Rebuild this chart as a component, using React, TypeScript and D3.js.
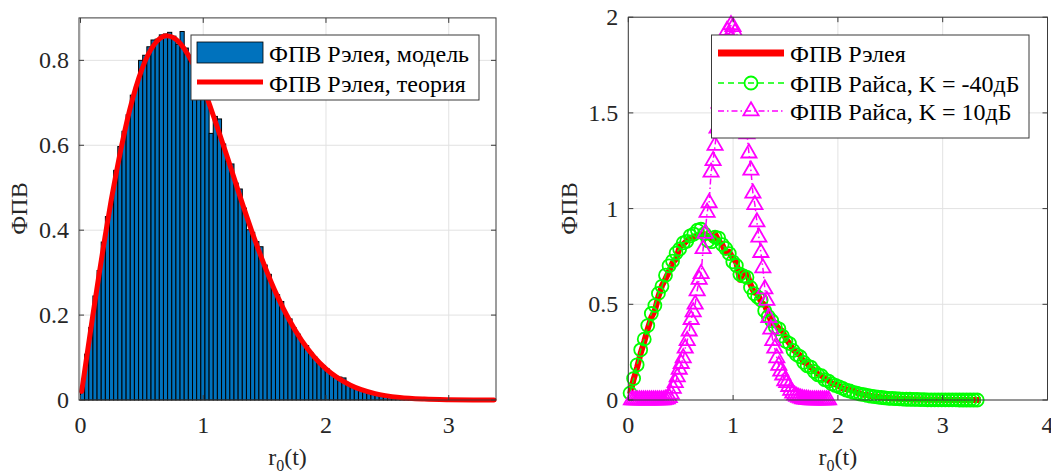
import React from 'react';
import * as d3 from 'd3';

// ---------- DATA ----------
// Left: histogram (PDF-normalised) of simulated Rayleigh samples
const HIST_START = 0;
const HIST_BIN = 0.0338;
const histValues = [
  0.032, 0.108, 0.171, 0.245, 0.305, 0.372, 0.432, 0.468, 0.541, 0.597,
  0.633, 0.672, 0.718, 0.737, 0.800, 0.812, 0.832, 0.848, 0.850, 0.860,
  0.862, 0.866, 0.857, 0.838, 0.868, 0.829, 0.812, 0.770, 0.774, 0.741,
  0.720, 0.628, 0.668, 0.662, 0.603, 0.562, 0.556, 0.511, 0.497, 0.452,
  0.401, 0.395, 0.373, 0.361, 0.318, 0.296, 0.263, 0.248, 0.232, 0.199,
  0.191, 0.170, 0.155, 0.136, 0.128, 0.112, 0.101, 0.087, 0.081, 0.073,
  0.060, 0.057, 0.054, 0.052, 0.038, 0.034, 0.027, 0.026, 0.021, 0.019,
  0.017, 0.013, 0.012, 0.010, 0.008, 0.008, 0.006, 0.005, 0.005, 0.004,
  0.003, 0.003, 0.002, 0.002, 0.001, 0.001, 0.001, 0.001, 0.0005, 0.0005,
  0.0005, 0, 0.0005, 0, 0, 0.0003, 0, 0, 0, 0.0003,
];
// Left: theoretical Rayleigh PDF
const theoryX = [0.01, 0.05, 0.1, 0.15, 0.2, 0.25, 0.3, 0.35, 0.4, 0.5, 0.6, 0.7, 0.8, 0.9, 1.0, 1.1, 1.2, 1.3, 1.4, 1.5, 1.6, 1.7, 1.8, 1.9, 2.0, 2.2, 2.4, 2.6, 2.8, 3.0, 3.2, 3.37];
const theoryY = [0.02, 0.0998, 0.198, 0.293, 0.384, 0.47, 0.548, 0.619, 0.682, 0.779, 0.837, 0.858, 0.844, 0.801, 0.736, 0.655, 0.569, 0.479, 0.394, 0.316, 0.247, 0.189, 0.141, 0.103, 0.0733, 0.0348, 0.0151, 0.006, 0.0022, 0.0007, 0.0002, 0.00008];

// Right: Rayleigh PDF (model) uses histValues at the bin centres
// Right: Rice PDF, K = -40 dB (same bin centres, 99 points)
const riceLowK = [
  0.036, 0.112, 0.184, 0.262, 0.318, 0.389, 0.452, 0.494, 0.557, 0.594,
  0.652, 0.701, 0.726, 0.768, 0.789, 0.821, 0.829, 0.858, 0.867, 0.887,
  0.892, 0.869, 0.832, 0.827, 0.851, 0.846, 0.812, 0.792, 0.765, 0.722,
  0.703, 0.657, 0.648, 0.641, 0.588, 0.556, 0.538, 0.522, 0.466, 0.437,
  0.414, 0.381, 0.372, 0.334, 0.306, 0.295, 0.259, 0.237, 0.226, 0.197,
  0.179, 0.172, 0.149, 0.132, 0.127, 0.106, 0.099, 0.084, 0.076, 0.069,
  0.061, 0.052, 0.047, 0.040, 0.036, 0.031, 0.028, 0.024, 0.020, 0.018,
  0.015, 0.013, 0.011, 0.009, 0.008, 0.007, 0.006, 0.005, 0.004, 0.004,
  0.003, 0.003, 0.002, 0.002, 0.001, 0.001, 0.001, 0.001, 0.001, 0.0005,
  0.0005, 0.0005, 0.0005, 0, 0, 0, 0, 0, 0,
];
// Right: Rice PDF, K = 10 dB
const RICE_HIGH_START = 0.03;
const RICE_HIGH_STEP = 0.019;
const riceHighK = [
  0, 0, 0, 0, 0, 0, 0, 0, 0, 0,
  0, 0, 0, 0, 0, 0, 0, 0.003, 0.006, 0.012,
  0.03, 0.06, 0.09, 0.12, 0.16, 0.19, 0.22, 0.27, 0.31, 0.36,
  0.42, 0.46, 0.50, 0.57, 0.63, 0.66, 0.79, 0.87, 0.98, 1.03,
  1.19, 1.25, 1.33, 1.42, 1.55, 1.62, 1.72, 1.80, 1.93, 1.90,
  1.96, 1.95, 1.92, 1.86, 1.80, 1.70, 1.60, 1.50, 1.39, 1.29,
  1.20, 1.08, 1.02, 0.93, 0.85, 0.77, 0.69, 0.58, 0.52, 0.43,
  0.37, 0.31, 0.27, 0.22, 0.18, 0.15, 0.13, 0.10, 0.09, 0.07,
  0.05, 0.035, 0.025, 0.018, 0.013, 0.009, 0.006, 0.004, 0.003, 0.002,
  0, 0, 0, 0, 0, 0, 0, 0, 0, 0,
];

const leftXTicks = [0, 1, 2, 3];
const leftYTicks = [0, 0.2, 0.4, 0.6, 0.8];
const rightXTicks = [0, 1, 2, 3, 4];
const rightYTicks = [0, 0.5, 1, 1.5, 2];

const leftLegend = ['ФПВ Рэлея, модель', 'ФПВ Рэлея, теория'];
const rightLegend = ['ФПВ Рэлея', 'ФПВ Райса, K = -40дБ', 'ФПВ Райса, K = 10дБ'];
const yLabel = 'ФПВ';

// ---------- STYLE ----------
const FONT = "'Liberation Serif', 'Times New Roman', serif";
const TXT = '#262626';
const GRID = '#e2e2e2';
const AX = '#3a3a3a';
const BLUE = '#0072BD';
const RED = '#ff0000';
const GREEN = '#00ff00';
const MAG = '#ff00ff';
const FS = 24;

function Axes({ x, y, xTicks, yTicks }: any) {
  const [x0, x1] = x.range();
  const [y1, y0] = y.range();
  return (
    <g>
      {xTicks.map((t: number) => (
        <line key={'gx' + t} x1={x(t)} x2={x(t)} y1={y0} y2={y1} stroke={GRID} strokeWidth={1} />
      ))}
      {yTicks.map((t: number) => (
        <line key={'gy' + t} x1={x0} x2={x1} y1={y(t)} y2={y(t)} stroke={GRID} strokeWidth={1} />
      ))}
    </g>
  );
}

function Frame({ x, y, xTicks, yTicks }: any) {
  const [x0, x1] = x.range();
  const [y1, y0] = y.range();
  const tl = 5;
  return (
    <g>
      <rect x={x0} y={y0} width={x1 - x0} height={y1 - y0} fill="none" stroke={AX} strokeWidth={1} />
      {xTicks.map((t: number) => (
        <g key={'tx' + t}>
          <line x1={x(t)} x2={x(t)} y1={y1} y2={y1 - tl} stroke={AX} />
          <line x1={x(t)} x2={x(t)} y1={y0} y2={y0 + tl} stroke={AX} />
          <text x={x(t)} y={y1 + 33} textAnchor="middle" fontSize={FS} fill={TXT} fontFamily={FONT}>{String(t)}</text>
        </g>
      ))}
      {yTicks.map((t: number) => (
        <g key={'ty' + t}>
          <line x1={x0} x2={x0 + tl} y1={y(t)} y2={y(t)} stroke={AX} />
          <line x1={x1} x2={x1 - tl} y1={y(t)} y2={y(t)} stroke={AX} />
          <text x={x0 - 10} y={y(t) + 8} textAnchor="end" fontSize={FS} fill={TXT} fontFamily={FONT}>{String(t)}</text>
        </g>
      ))}
      <text x={(x0 + x1) / 2} y={465} textAnchor="middle" fontSize={FS} fill={TXT} fontFamily={FONT}>
        r<tspan fontSize={16} dy={6}>0</tspan><tspan dy={-6}>(t)</tspan>
      </text>
    </g>
  );
}

export default function App() {
  // Left axes
  const xl = d3.scaleLinear().domain([-0.012, 3.385]).range([79, 496]);
  const yl = d3.scaleLinear().domain([0, 0.9]).range([400, 17.9]);
  // Right axes
  const xr = d3.scaleLinear().domain([0, 4]).range([628.3, 1047.5]);
  const yr = d3.scaleLinear().domain([0, 2]).range([400, 17.2]);

  const histCenters = histValues.map((_, i) => HIST_START + HIST_BIN * (i + 0.5));
  const lowKX = riceLowK.map((_, i) => HIST_START + HIST_BIN * (i + 0.5));
  const highKX = riceHighK.map((_, i) => RICE_HIGH_START + RICE_HIGH_STEP * i);

  const theoryLine = d3.line<number>().x((_, i) => xl(theoryX[i])).y((d) => yl(d)).curve(d3.curveMonotoneX)(theoryY) || '';
  const redLine = d3.line<number>().x((_, i) => xr(histCenters[i])).y((d) => yr(d))(histValues) || '';
  const greenLine = d3.line<number>().x((_, i) => xr(lowKX[i])).y((d) => yr(d))(riceLowK) || '';
  const magLine = d3.line<number>().x((_, i) => xr(highKX[i])).y((d) => yr(d))(riceHighK) || '';
  const tri = d3.symbol(d3.symbolTriangle, 100)() || '';

  return (
    <svg width={1051} height={472} style={{ position: 'absolute', left: 0, top: 0, background: '#fff' }} fontFamily={FONT}>
      <rect x={0} y={0} width={1051} height={472} fill="#fff" />
      {/* ---------- LEFT ---------- */}
      <Axes x={xl} y={yl} xTicks={leftXTicks} yTicks={leftYTicks} />
      {histValues.map((v, i) => {
        const a = xl(HIST_START + HIST_BIN * i);
        const b = xl(HIST_START + HIST_BIN * (i + 1));
        return <rect key={'h' + i} x={a} y={yl(v)} width={b - a} height={yl(0) - yl(v)} fill={BLUE} stroke="#000" strokeWidth={1} />;
      })}
      <path d={theoryLine} fill="none" stroke={RED} strokeWidth={5} strokeLinejoin="round" strokeLinecap="round" />
      <Frame x={xl} y={yl} xTicks={leftXTicks} yTicks={leftYTicks} />
      <text transform={`translate(27,${(17 + 400) / 2}) rotate(-90)`} textAnchor="middle" fontSize={FS} fill={TXT}>{yLabel}</text>
      {/* left legend */}
      <g>
        <rect x={191} y={35} width={288} height={65} fill="#fff" stroke={AX} strokeWidth={1} />
        <rect x={197} y={42} width={66} height={21} fill={BLUE} stroke="#000" strokeWidth={0.8} />
        <text x={269} y={62} fontSize={FS} fill="#000">{leftLegend[0]}</text>
        <line x1={197} x2={263} y1={82} y2={82} stroke={RED} strokeWidth={5} />
        <text x={269} y={92} fontSize={FS} fill="#000">{leftLegend[1]}</text>
      </g>

      {/* ---------- RIGHT ---------- */}
      <Axes x={xr} y={yr} xTicks={rightXTicks} yTicks={rightYTicks} />
      <path d={redLine} fill="none" stroke={RED} strokeWidth={6} strokeLinejoin="round" />
      <path d={greenLine} fill="none" stroke={GREEN} strokeWidth={1.5} strokeDasharray="6 4" />
      {riceLowK.map((v, i) => (
        <circle key={'c' + i} cx={xr(lowKX[i])} cy={yr(v)} r={6.5} fill="none" stroke={GREEN} strokeWidth={1.8} />
      ))}
      <path d={magLine} fill="none" stroke={MAG} strokeWidth={1.5} strokeDasharray="6 3 1.5 3" />
      {riceHighK.map((v, i) => (
        <path key={'t' + i} d={tri} transform={`translate(${xr(highKX[i])},${yr(v)})`} fill="none" stroke={MAG} strokeWidth={1.8} />
      ))}
      <Frame x={xr} y={yr} xTicks={rightXTicks} yTicks={rightYTicks} />
      <text transform={`translate(577,${(17 + 400) / 2}) rotate(-90)`} textAnchor="middle" fontSize={FS} fill={TXT}>{yLabel}</text>
      {/* right legend */}
      <g>
        <rect x={711.5} y={35} width={317.5} height={103} fill="#fff" stroke={AX} strokeWidth={1} />
        <line x1={718} x2={784} y1={53} y2={53} stroke={RED} strokeWidth={7} />
        <text x={790} y={62} fontSize={FS} fill="#000">{rightLegend[0]}</text>
        <line x1={718} x2={784} y1={83} y2={83} stroke={GREEN} strokeWidth={1.5} strokeDasharray="6 4" />
        <circle cx={751} cy={83} r={6.5} fill="none" stroke={GREEN} strokeWidth={1.8} />
        <text x={790} y={92} fontSize={FS} fill="#000">{rightLegend[1]}</text>
        <line x1={718} x2={784} y1={111} y2={111} stroke={MAG} strokeWidth={1.5} strokeDasharray="6 3 1.5 3" />
        <path d={tri} transform="translate(751,111)" fill="none" stroke={MAG} strokeWidth={1.8} />
        <text x={790} y={120} fontSize={FS} fill="#000">{rightLegend[2]}</text>
      </g>
    </svg>
  );
}
